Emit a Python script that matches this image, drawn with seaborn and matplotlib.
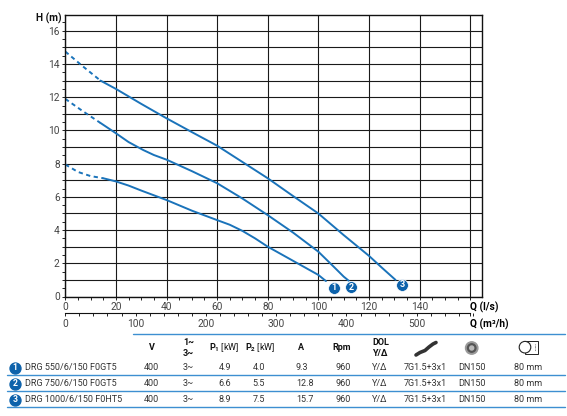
import numpy as np
import matplotlib
matplotlib.use("Agg")
import matplotlib.pyplot as plt
import seaborn as sns
from matplotlib.ticker import MultipleLocator
from matplotlib.patches import Circle, Rectangle

# --- curve data (Q in l/s, H in m) ---
Q1_DASH = [0, 5, 10, 15]
H1_DASH = [7.95, 7.5, 7.25, 7.12]
Q1 = [15, 20, 25, 30, 40, 50, 60, 65, 70, 75, 80, 90, 100, 103]
H1 = [7.12, 6.93, 6.68, 6.38, 5.81, 5.17, 4.6, 4.32, 3.95, 3.5, 3.0, 2.15, 1.3, 0.93]

Q2_DASH = [0, 7, 13.9]
H2_DASH = [11.9, 11.15, 10.45]
Q2 = [13.9, 20, 25, 30.8, 35, 40, 50, 60, 70, 80, 90, 100, 106.7, 110, 112]
H2 = [10.45, 9.83, 9.3, 8.82, 8.52, 8.24, 7.55, 6.82, 5.9, 4.9, 3.85, 2.7, 1.7, 1.2, 0.95]

Q3_DASH = [0, 7, 13.9]
H3_DASH = [14.75, 13.85, 13.0]
Q3 = [13.9, 20, 30, 40, 50, 60, 70, 80, 90, 100, 110, 120, 125, 130.5]
H3 = [13.0, 12.5, 11.6, 10.73, 9.9, 9.08, 8.1, 7.12, 6.05, 5.0, 3.7, 2.45, 1.75, 1.0]

BADGE_LABELS = ["1", "2", "3"]
BADGE_Q = [106, 113, 133]
BADGE_H = [0.52, 0.55, 0.7]

X_TICKS = [0, 20, 40, 60, 80, 100, 120, 140, 160]
X_LABELS = ["0", "20", "40", "60", "80", "100", "120", "140", "Q (l/s)"]
M3H_TICKS = [0, 100, 200, 300, 400, 500, 576]
M3H_LABELS = ["0", "100", "200", "300", "400", "500", "Q (m³/h)"]

# --- table data ---
MODELS = ["DRG 550/6/150 F0GT5", "DRG 750/6/150 F0GT5", "DRG 1000/6/150 F0HT5"]
VOLT = ["400", "400", "400"]
PHASE = ["3~", "3~", "3~"]
P1 = ["4.9", "6.6", "8.9"]
P2 = ["4.0", "5.5", "7.5"]
AMPS = ["9.3", "12.8", "15.7"]
RPM = ["960", "960", "960"]
START = ["Y/Δ", "Y/Δ", "Y/Δ"]
CABLE = ["7G1.5+3x1", "7G1.5+3x1", "7G1.5+3x1"]
FLANGE = ["DN150", "DN150", "DN150"]
PASSAGE = ["80 mm", "80 mm", "80 mm"]

CURVE = "#1a73ba"
BADGE = "#0d62ab"
TBL_LINE = "#3d8fd1"

sns.set_style("white")
plt.rcParams["font.family"] = ["Roboto", "DejaVu Sans"]
plt.rcParams["mathtext.fontset"] = "custom"
plt.rcParams["mathtext.rm"] = "Roboto"
plt.rcParams["mathtext.bf"] = "Roboto:bold"

fig = plt.figure(figsize=(5.67, 4.16), dpi=100)
ax = fig.add_axes([65.3 / 567, 1 - 296.5 / 416, (482.3 - 65.3) / 567, (296.5 - 15) / 416])

curves = [(Q1_DASH, H1_DASH, Q1, H1), (Q2_DASH, H2_DASH, Q2, H2), (Q3_DASH, H3_DASH, Q3, H3)]
for qd, hd, qs, hs in curves:
    sns.lineplot(x=qd, y=hd, ax=ax, color=CURVE, lw=1.4, linestyle=(0, (2.2, 1.8)),
                 estimator=None, sort=False)
    sns.lineplot(x=qs, y=hs, ax=ax, color=CURVE, lw=1.4, estimator=None, sort=False)

ax.scatter(BADGE_Q, BADGE_H, s=72, color=BADGE, zorder=5, edgecolor="white", linewidth=0.5)
for lab, q, h in zip(BADGE_LABELS, BADGE_Q, BADGE_H):
    ax.text(q, h, lab, color="white", fontsize=6.5, fontweight="bold",
            ha="center", va="center", zorder=6)

ax.set_xlim(0, 164.8)
ax.set_ylim(0, 16.95)
ax.set_xticks(X_TICKS)
ax.set_xticklabels(X_LABELS)
ax.xaxis.set_minor_locator(MultipleLocator(5))
ax.set_yticks(np.arange(0, 17, 1))
ax.set_yticklabels([str(v) if v % 2 == 0 else "" for v in range(17)])
ax.yaxis.set_minor_locator(MultipleLocator(0.5))
ax.tick_params(axis="both", which="both", direction="out", colors="#222",
               labelcolor="#444", labelsize=7.3, length=2.5, width=0.7, pad=1.5)
ax.tick_params(axis="x", which="both", bottom=True)
ax.tick_params(axis="y", which="both", left=True)
lx = ax.get_xticklabels()[-1]
lx.set_fontweight("bold")
lx.set_ha("left")
lx.set_color("black")

ax.grid(True, which="major", color="#1a1a1a", lw=0.8)
ax.set_axisbelow(True)
for s in ax.spines.values():
    s.set_color("#111")
    s.set_linewidth(1.0)

ax.annotate("H (m)", xy=(0, 16.72), xytext=(-2.5, 0), textcoords="offset points",
            ha="right", va="center", fontsize=7.3, fontweight="bold", color="#111")

sec = ax.secondary_xaxis(-0.0586, functions=(lambda q: q * 3.6, lambda m: m / 3.6))
sec.set_xticks(M3H_TICKS)
sec.set_xticklabels(M3H_LABELS)
sec.xaxis.set_minor_locator(MultipleLocator(20))
sec.tick_params(axis="x", which="both", direction="out", colors="#222",
                labelcolor="#444", labelsize=7.3, length=2.5, width=0.7, pad=1.5)
sec.spines["bottom"].set_color("#111")
sec.spines["bottom"].set_bounds(0, 576)
ls = sec.get_xticklabels()[-1]
ls.set_fontweight("bold")
ls.set_ha("left")
ls.set_color("black")

# --- table below the chart (overlay in pixel units) ---
ov = fig.add_axes([0, 0, 1, 1], facecolor="none")
ov.set_xlim(0, 567)
ov.set_ylim(416, 0)
ov.axis("off")

ov.plot([133, 565], [334, 334], color=TBL_LINE, lw=1.0)
for y in [375, 391, 407]:
    ov.plot([7, 565], [y, y], color=TBL_LINE, lw=1.0)

hkw = dict(fontsize=6.5, fontweight="bold", ha="center", va="center", color="#111")
ov.text(151.7, 348, "V", **hkw)
ov.text(188.3, 342.5, "1~", **hkw)
ov.text(188.3, 353.5, "3~", **hkw)
ov.text(224, 348, r"$\mathbf{P_1}$ [kW]", fontsize=6.5, ha="center", va="center", color="#111")
ov.text(260, 348, r"$\mathbf{P_2}$ [kW]", fontsize=6.5, ha="center", va="center", color="#111")
ov.text(300.7, 348, "A", **hkw)
ov.text(341.7, 348, "Rpm", **hkw)
ov.text(380.5, 342.5, "DOL", **hkw)
ov.text(380.5, 353.5, "Y/Δ", **hkw)

# header icons
ov.plot([416, 420, 425, 429, 433, 436], [355, 352.5, 350.5, 347, 344, 342.5],
        color="#333", lw=2.6, solid_capstyle="round")
ov.add_patch(Circle((471.7, 348), 6.2, color="#9a9a9a"))
ov.add_patch(Circle((471.7, 348), 4.2, color="#555"))
ov.add_patch(Circle((471.7, 348), 2.0, color="#bbb"))
ov.add_patch(Rectangle((525, 341), 13, 12.5, fill=False, edgecolor="#222", lw=0.7))
ov.add_patch(Circle((525, 347.2), 5.8, facecolor="white", edgecolor="#222", lw=0.8))
ov.plot([535, 535], [344, 350.5], color="#222", lw=0.5, linestyle=(0, (1, 1)))

row_y = [367.7, 383.7, 399.7]
vkw = dict(fontsize=6.5, ha="center", va="center", color="#333")
for i, y in enumerate(row_y):
    ov.scatter([15], [y], s=62, color=BADGE, zorder=5)
    ov.text(15, y, BADGE_LABELS[i], color="white", fontsize=6.2, fontweight="bold",
            ha="center", va="center", zorder=6)
    ov.text(25, y, MODELS[i], fontsize=6.5, ha="left", va="center", color="#333")
    ov.text(151.7, y, VOLT[i], **vkw)
    ov.text(188.3, y, PHASE[i], **vkw)
    ov.text(225, y, P1[i], **vkw)
    ov.text(259, y, P2[i], **vkw)
    ov.text(296, y, AMPS[i], fontsize=6.5, ha="left", va="center", color="#333")
    ov.text(343, y, RPM[i], **vkw)
    ov.text(380, y, START[i], **vkw)
    ov.text(425, y, CABLE[i], **vkw)
    ov.text(471.7, y, FLANGE[i], **vkw)
    ov.text(527.7, y, PASSAGE[i], **vkw)

fig.savefig("out.png", dpi=100)
